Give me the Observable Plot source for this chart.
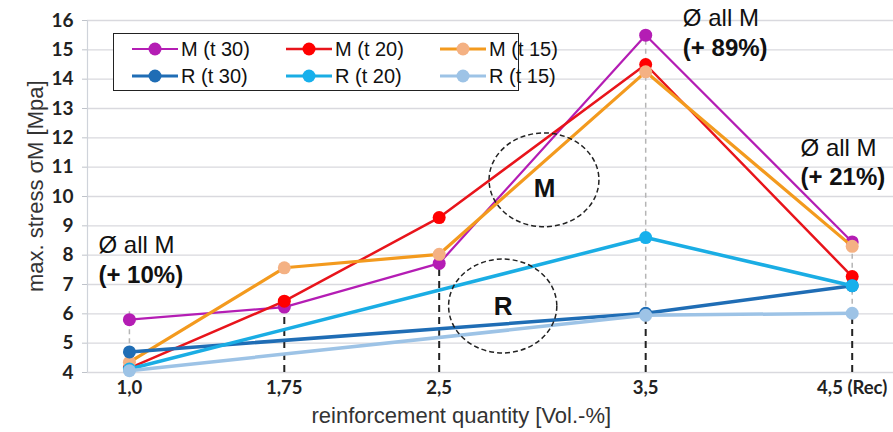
<!DOCTYPE html>
<html><head><meta charset="utf-8">
<script src="https://cdn.jsdelivr.net/npm/d3@7"></script>
<script src="https://cdn.jsdelivr.net/npm/@observablehq/plot@0.6"></script>
<style>
body{margin:0;background:#fff;}
#wrap{position:relative;width:893px;height:432px;}
#legend{position:absolute;left:113px;top:33px;width:404px;height:56px;border:1.5px solid #222;background:#fff;font-family:"Liberation Sans",Arial,sans-serif;font-size:20px;color:#111;}
.item{position:absolute;display:flex;align-items:center;height:26px;white-space:nowrap}
.item svg{margin-right:3px}
</style></head><body><div id="wrap"><div id="chart"></div><div id="legend"></div></div>
<script>
// ---- data ----
const xValues = [1.0, 1.75, 2.5, 3.5, 4.5];
const xTickLabels = ["1,0", "1,75", "2,5", "3,5", "4,5 (Rec)"];
const yTicks = [4, 5, 6, 7, 8, 9, 10, 11, 12, 13, 14, 15, 16];
const seriesNames = ["M (t 30)", "M (t 20)", "M (t 15)", "R (t 30)", "R (t 20)", "R (t 15)"];
const mT30 = [5.8, 6.23, 7.72, 15.5, 8.45];
const mT20 = [4.15, 6.43, 9.28, 14.5, 7.27];
const mT15 = [4.35, 7.57, 8.03, 14.25, 8.3];
const rT30 = [4.7, null, null, 6.02, 6.96];
const rT20 = [4.12, null, null, 8.6, 6.96];
const rT15 = [4.06, null, null, 5.95, 6.02];
const annotationLines = ["Ø all M", "(+ 10%)", "Ø all M", "(+ 89%)", "Ø all M", "(+ 21%)"];
const groupLabels = ["M", "R"];

// ---- styles / layout ----
const seriesValues = [mT30, mT20, mT15, rT30, rT20, rT15];
const lineColors = ["#b41db4", "#e8141b", "#f39a1e", "#1f6db5", "#1aade4", "#9dc3e6"];
const dotColors = ["#b41db4", "#ff0000", "#f4b183", "#1f6db5", "#17b0ec", "#9dc3e6"];
const lineWidths = [2.2, 2.5, 3.2, 3.5, 3.5, 3.5];
const xDomain = [0.797, 4.70];
const annoPos = [
  {x: 0.85, y: 8.35, bold: false}, {x: 0.85, y: 7.33, bold: true},
  {x: 3.68, y: 16.08, bold: false}, {x: 3.68, y: 15.06, bold: true},
  {x: 4.25, y: 11.65, bold: false}, {x: 4.25, y: 10.66, bold: true}
];
const ellipses = [{x: 3.01, y: 10.55, rx: 0.266, ry: 1.6}, {x: 2.81, y: 6.25, rx: 0.262, ry: 1.6}];
const groupLabelPos = [{x: 3.01, y: 10.25}, {x: 2.81, y: 6.25}];

// ---- derived rows ----
const rows = [];
seriesValues.forEach((vals, s) => vals.forEach((v, i) => {
  if (v != null) rows.push({s, name: seriesNames[s], x: xValues[i], y: v});
}));
const mins = xValues.map((x, i) => d3.min(seriesValues, v => v[i]));
const maxs = xValues.map((x, i) => d3.max(seriesValues, v => v[i]));
const allDefined = xValues.map((x, i) => seriesValues.every(v => v[i] != null));
const grayGuides = xValues.map((x, i) => ({x, y1: mins[i], y2: maxs[i] + (i === 0 ? 0.35 : 0)})).filter((d, i) => allDefined[i]);
const blackGuides = xValues.map((x, i) => ({x, y1: yTicks[0], y2: mins[i]})).filter((d, i) => i > 0);

function ellipseMark(data) {
  return (index, scales) => {
    const g = d3.create("svg:g").attr("fill", "none").attr("stroke", "#222")
      .attr("stroke-width", 1.5).attr("stroke-dasharray", "5,3");
    for (const e of data) {
      const cx = scales.x(e.x), cy = scales.y(e.y);
      g.append("ellipse").attr("cx", cx).attr("cy", cy)
        .attr("rx", Math.abs(scales.x(e.x + e.rx) - cx))
        .attr("ry", Math.abs(scales.y(e.y + e.ry) - cy));
    }
    return g.node();
  };
}

const seriesMarks = [];
seriesValues.forEach((vals, s) => {
  const data = rows.filter(r => r.s === s);
  seriesMarks.push(Plot.line(data, {x: "x", y: "y", stroke: lineColors[s], strokeWidth: lineWidths[s], curve: "linear"}));
  seriesMarks.push(Plot.dot(data, {x: "x", y: "y", r: 6.5, fill: dotColors[s], stroke: "none"}));
});

const annoData = annotationLines.map((t, i) => ({t, ...annoPos[i]}));

const chart = Plot.plot({
  width: 893, height: 432,
  marginLeft: 87, marginRight: 0, marginTop: 20, marginBottom: 60,
  x: {domain: xDomain, label: null},
  y: {domain: [4, 16], label: null},
  style: {fontFamily: "Liberation Sans, Arial, sans-serif", background: "#fff", color: "#222"},
  marks: [
    Plot.gridY(yTicks, {stroke: "#d9d9de", strokeOpacity: 1, strokeWidth: 1.4}),
    Plot.ruleX([xDomain[0]], {y1: 4, y2: 16, stroke: "#cfd3da", strokeWidth: 1.2}),
    Plot.axisY(yTicks, {tickSize: 5, tickPadding: 9, stroke: "#bfc3ca", fill: "#222", fontSize: 19, fontWeight: "bold", fontFamily: "Lato, Liberation Sans, sans-serif", label: null}),
    Plot.axisX(xValues, {tickSize: 0, tickPadding: 8, fill: "#222", fontSize: 18.5, fontWeight: "bold", fontFamily: "Lato, Liberation Sans, sans-serif", tickFormat: d => xTickLabels[xValues.indexOf(d)], label: null}),
    Plot.ruleX(grayGuides, {x: "x", y1: "y1", y2: "y2", stroke: "#b5b5b5", strokeWidth: 1.5, strokeDasharray: "5,4"}),
    Plot.ruleX(blackGuides, {x: "x", y1: "y1", y2: "y2", stroke: "#222", strokeWidth: 2, strokeDasharray: "7,5"}),
    ...seriesMarks,
    ellipseMark(ellipses),
    Plot.text(groupLabels, {x: groupLabelPos.map(d => d.x), y: groupLabelPos.map(d => d.y), text: d => d, fontSize: 26, fontWeight: "bold", fill: "#111"}),
    Plot.text(annoData.filter(d => !d.bold), {x: "x", y: "y", text: "t", textAnchor: "start", fontSize: 24, fill: "#111"}),
    Plot.text(annoData.filter(d => d.bold), {x: "x", y: "y", text: "t", textAnchor: "start", fontSize: 24, fontWeight: "bold", fill: "#111"}),
    Plot.text(["max. stress σM [Mpa]"], {frameAnchor: "left", y: [10.35], dx: -52, rotate: -90, textAnchor: "middle", fontSize: 22, fill: "#333"}),
    Plot.text(["reinforcement quantity [Vol.-%]"], {frameAnchor: "bottom", x: [2.607], dy: 50, textAnchor: "middle", fontSize: 22, fill: "#333"})
  ]
});
document.getElementById("chart").appendChild(chart);

// ---- legend ----
const legend = document.getElementById("legend");
const colX = [18, 172, 326];
const rowY = [2, 29];
seriesNames.forEach((name, i) => {
  const item = document.createElement("div");
  item.className = "item";
  item.style.left = colX[i % 3] + "px";
  item.style.top = rowY[Math.floor(i / 3)] + "px";
  item.innerHTML = `<svg width="46" height="16"><line x1="0" x2="46" y1="8" y2="8" stroke="${lineColors[i]}" stroke-width="${Math.min(lineWidths[i], 3)}"/><circle cx="23" cy="8" r="6.5" fill="${dotColors[i]}"/></svg><span>${name}</span>`;
  legend.appendChild(item);
});
</script>
</body></html>
